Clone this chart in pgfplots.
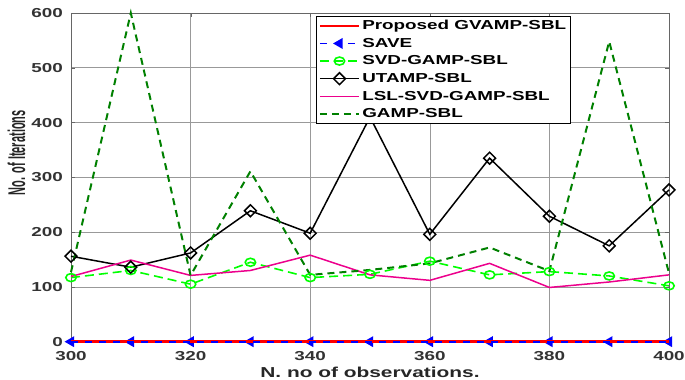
\documentclass[border=0pt]{standalone}
\usepackage{graphicx}
\usepackage{fontspec}
\usepackage{pgfplots}
\pgfplotsset{compat=1.18}
\setmainfont{Liberation Sans}
\newfontfamily\stretchsans{Liberation Sans}[FakeStretch=1.45]
\newfontfamily\plainsans{Liberation Sans}
\definecolor{mygreen}{rgb}{0,1,0}
\definecolor{darkgreen}{rgb}{0,0.5,0}
\begin{document}
\begin{tikzpicture}
\begin{axis}[
  set layers=standard,
  axis on top=false,
  scale only axis,
  width=598bp, height=328.7bp,
  xmin=300, xmax=400, ymin=0, ymax=600,
  xtick={300,320,340,360,380,400},
  ytick={0,100,200,300,400,500,600},
  grid=major,
  major grid style={black!40, line width=0.6bp},
  axis line style={black!60, line width=0.7bp},
  tick align=inside,
  major tick length=4bp,
  tick style={black!60},
  clip=false,
  /pgf/number format/assume math mode=true,
  /pgf/number format/1000 sep={},
  ticklabel style={font=\stretchsans\bfseries\fontsize{13bp}{15bp}\selectfont, text=black!80},
  xticklabel style={anchor=base, yshift=-19bp, inner sep=0pt},
  yticklabel style={anchor=east, inner xsep=0pt, xshift=-8bp},
  xlabel={N. no of observations.},
  xlabel style={font=\stretchsans\bfseries\fontsize{14.4bp}{16bp}\selectfont, text=black!85, at={(rel axis cs:0.5,0)}, anchor=base, yshift=-35.8bp, inner sep=0pt},
  ylabel={\scalebox{1}[2.2]{No. of Iterations}},
  ylabel style={font=\plainsans\bfseries\fontsize{11bp}{12bp}\selectfont, text=black!85, at={(axis description cs:-0.0911,0.575)}, anchor=center},
  legend image code/.code={\draw[mark repeat=2,mark phase=2] plot coordinates {(0bp,0bp) (19.5bp,0bp) (39bp,0bp)};},
  legend cell align=left,
  legend style={at={(0.409,0.991)}, anchor=north west, draw=black, line width=0.8bp, fill=white,
    font=\stretchsans\bfseries\fontsize{13bp}{15bp}\selectfont,
    row sep=0pt, column sep=0pt, inner xsep=2.7bp, inner ysep=0.7bp,
    nodes={minimum height=17.6bp, inner ysep=0pt, inner xsep=2bp}},
]
\addplot[color=red, solid, line width=2.6bp, on layer=axis foreground] coordinates {
(300,0) (310,0) (320,0) (330,0) (340,0) (350,0) (360,0) (370,0) (380,0) (390,0) (400,0)};
\addlegendentry{Proposed GVAMP-SBL}
\addplot[color=blue, line width=1.8bp, on layer=axis foreground, dash pattern=on 7bp off 7bp, mark=triangle*, mark size=4.6bp, mark options={solid, rotate=90, fill=blue}] coordinates {
(300,0) (310,0) (320,0) (330,0) (340,0) (350,0) (360,0) (370,0) (380,0) (390,0) (400,0)};
\addlegendentry{SAVE}
\addplot[mygreen, line width=1.6bp, dash pattern=on 9bp off 5bp, mark=o, mark size=4bp, mark options={solid, xscale=1.3}] coordinates {
(300,117) (310,130) (320,105) (330,145) (340,117) (350,123) (360,147) (370,122) (380,128) (390,120) (400,102)};
\addlegendentry{SVD-GAMP-SBL}
\addplot[black, line width=1.5bp, mark=square, mark size=4.2bp, mark options={solid, rotate=45}] coordinates {
(300,156) (310,136) (320,162) (330,239) (340,198) (350,410) (360,196) (370,335) (380,229) (390,175) (400,277)};
\addlegendentry{UTAMP-SBL}
\addplot[magenta, line width=1.5bp] coordinates {
(300,119) (310,149) (320,121) (330,130) (340,158) (350,122) (360,112) (370,143) (380,99) (390,109) (400,122)};
\addlegendentry{LSL-SVD-GAMP-SBL}
\addplot[darkgreen, line width=2bp, dash pattern=on 7bp off 5bp] coordinates {
(300,127) (310,600) (320,121) (330,311) (340,122) (350,131) (360,143) (370,172) (380,129) (390,548) (400,125)};
\addlegendentry{GAMP-SBL}
\end{axis}
\pgfresetboundingbox
\path[use as bounding box] (-71bp,-38.3bp) rectangle (614bp,341.7bp);
\end{tikzpicture}
\end{document}
